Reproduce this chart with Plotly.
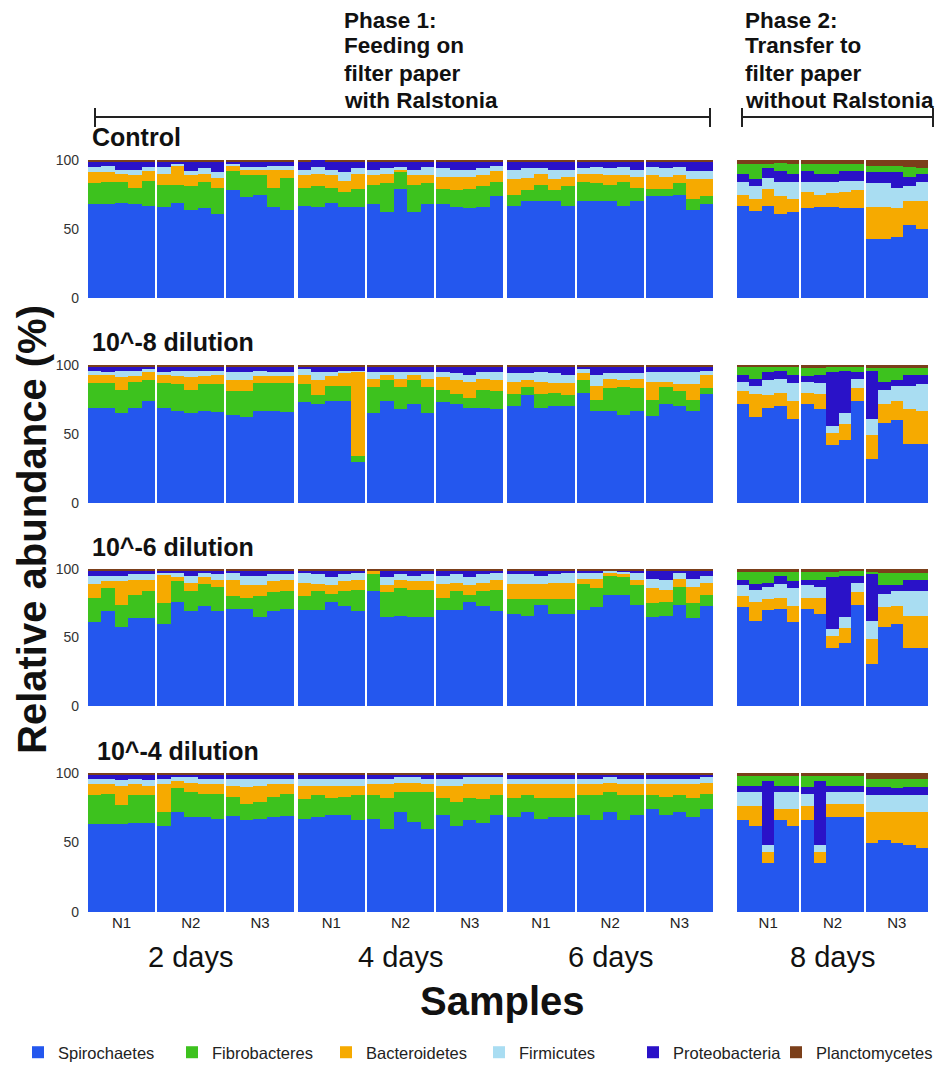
import plotly.graph_objects as go

# ---------------- data ----------------
series_names = ["Spirochaetes", "Fibrobacteres", "Bacteroidetes", "Firmicutes", "Proteobacteria", "Planctomycetes"]
series_colors = ["#2457EE", "#3DC21E", "#F6AA00", "#A9DDF2", "#2A12C8", "#7B3F1A"]
panel_titles = ["Control", "10^-8 dilution", "10^-6 dilution", "10^-4 dilution"]
day_labels = ["2 days", "4 days", "6 days", "8 days"]
replicate_labels = ["N1", "N2", "N3"]
y_ticks = [0, 50, 100]

# each list: 2 days (N1..N3 x 5 bars), 4 days, 6 days, 8 days
control_spirochaetes = [68, 68, 69, 68, 67, 66, 69, 64, 65, 61, 78, 73, 75, 66, 64,
                        67, 66, 69, 66, 66, 68, 62, 79, 62, 68, 68, 66, 65, 66, 74,
                        67, 70, 70, 70, 67, 70, 70, 70, 67, 70, 74, 74, 75, 64, 68,
                        67, 63, 67, 61, 62, 65, 66, 66, 65, 65, 43, 43, 44, 53, 50]
control_fibrobacteres = [15, 16, 15, 12, 18, 16, 13, 17, 19, 19, 14, 16, 14, 14, 23,
                         13, 15, 11, 11, 13, 14, 21, 12, 20, 15, 11, 12, 14, 15, 10,
                         8, 8, 12, 8, 14, 14, 13, 12, 17, 10, 5, 5, 8, 8, 6,
                         7, 11, 3, 6, 7, 5, 7, 7, 5, 5, 5, 5, 5, 7, 4]
control_bacteroidetes = [8, 7, 6, 9, 7, 8, 14, 8, 6, 7, 4, 4, 4, 13, 6,
                         9, 9, 9, 8, 11, 7, 7, 2, 7, 6, 9, 10, 9, 8, 8,
                         11, 9, 8, 8, 7, 6, 7, 7, 5, 8, 10, 9, 6, 14, 12,
                         8, 9, 12, 13, 10, 12, 9, 10, 12, 13, 23, 23, 21, 17, 20]
control_firmicutes = [4, 5, 3, 4, 3, 5, 1, 3, 4, 4, 1, 2, 2, 3, 3,
                      4, 5, 4, 6, 4, 4, 4, 2, 4, 6, 6, 5, 5, 5, 4,
                      7, 7, 4, 7, 5, 4, 5, 5, 6, 5, 6, 6, 6, 6, 6,
                      9, 9, 8, 10, 12, 7, 9, 8, 8, 7, 17, 17, 15, 11, 14]
control_proteobacteria = [4, 3, 6, 6, 4, 4, 2, 7, 5, 8, 2, 4, 4, 3, 3,
                          6, 5, 6, 8, 5, 6, 5, 4, 6, 4, 5, 6, 6, 5, 3,
                          6, 5, 5, 6, 6, 5, 4, 5, 4, 6, 4, 5, 4, 7, 7,
                          6, 5, 7, 8, 6, 8, 6, 6, 7, 7, 8, 8, 11, 7, 6]
control_planctomycetes = [1, 1, 1, 1, 1, 1, 1, 1, 1, 1, 1, 1, 1, 1, 1,
                          1, 0, 1, 1, 1, 1, 1, 1, 1, 1, 1, 1, 1, 1, 1,
                          1, 1, 1, 1, 1, 1, 1, 1, 1, 1, 1, 1, 1, 1, 1,
                          3, 3, 3, 2, 3, 3, 3, 3, 3, 3, 4, 4, 4, 5, 6]

d8_spirochaetes = [69, 69, 65, 69, 74, 69, 67, 65, 67, 66, 64, 62, 67, 67, 66,
                   73, 72, 74, 74, 30, 65, 74, 68, 72, 65, 73, 72, 69, 69, 68,
                   70, 78, 69, 70, 70, 80, 67, 67, 64, 67, 63, 72, 70, 67, 79,
                   72, 62, 69, 70, 61, 72, 68, 42, 46, 74, 32, 58, 60, 43, 43]
d8_fibrobacteres = [18, 18, 17, 19, 15, 18, 19, 17, 19, 20, 17, 19, 20, 20, 21,
                    13, 6, 11, 11, 4, 19, 15, 16, 17, 19, 9, 7, 7, 13, 13,
                    9, 6, 10, 10, 8, 9, 8, 16, 20, 16, 12, 12, 11, 8, 4,
                    6, 9, 4, 3, 6, 6, 5, 4, 3, 4, 2, 10, 9, 5, 5]
d8_bacteroidetes = [6, 6, 9, 4, 6, 6, 6, 9, 6, 7, 8, 8, 5, 5, 5,
                    7, 11, 7, 9, 61, 6, 4, 6, 4, 6, 9, 10, 12, 8, 8,
                    9, 5, 9, 7, 9, 5, 10, 7, 5, 7, 13, 4, 5, 11, 10,
                    9, 17, 9, 10, 13, 8, 11, 9, 11, 9, 17, 14, 14, 25, 24]
d8_firmicutes = [3, 2, 5, 4, 2, 2, 4, 5, 4, 3, 6, 6, 4, 3, 3,
                 4, 6, 3, 2, 1, 5, 2, 5, 2, 5, 4, 5, 5, 5, 6,
                 6, 5, 7, 7, 6, 3, 8, 4, 5, 4, 7, 7, 9, 9, 3,
                 7, 6, 11, 10, 13, 8, 8, 5, 8, 7, 12, 10, 11, 17, 19]
d8_proteobacteria = [3, 4, 3, 3, 2, 4, 3, 3, 3, 3, 4, 4, 3, 4, 4,
                     2, 4, 4, 3, 3, 4, 4, 4, 4, 4, 4, 5, 6, 4, 4,
                     5, 5, 4, 5, 6, 2, 6, 5, 5, 5, 4, 4, 4, 4, 3,
                     5, 5, 6, 6, 6, 4, 6, 39, 31, 5, 35, 6, 4, 8, 7]
d8_planctomycetes = [1, 1, 1, 1, 1, 1, 1, 1, 1, 1, 1, 1, 1, 1, 1,
                     1, 1, 1, 1, 1, 1, 1, 1, 1, 1, 1, 1, 1, 1, 1,
                     1, 1, 1, 1, 1, 1, 1, 1, 1, 1, 1, 1, 1, 1, 1,
                     1, 1, 1, 1, 1, 2, 2, 1, 1, 1, 2, 2, 2, 2, 2]

d6_spirochaetes = [61, 69, 58, 64, 64, 60, 76, 69, 73, 69, 71, 71, 65, 69, 71,
                   70, 70, 76, 73, 69, 84, 65, 66, 65, 65, 70, 70, 76, 73, 69,
                   67, 66, 74, 67, 67, 70, 72, 81, 81, 74, 65, 66, 74, 64, 73,
                   72, 62, 70, 71, 61, 71, 67, 42, 46, 74, 31, 58, 60, 42, 42]
d6_fibrobacteres = [18, 17, 16, 17, 20, 15, 15, 15, 16, 18, 9, 8, 15, 14, 13,
                    10, 14, 6, 11, 16, 12, 18, 20, 20, 20, 9, 14, 5, 11, 16,
                    11, 12, 4, 11, 11, 19, 14, 14, 13, 14, 10, 10, 13, 11, 8,
                    6, 9, 8, 3, 7, 6, 6, 4, 4, 4, 1, 9, 9, 5, 5]
d6_bacteroidetes = [10, 5, 17, 11, 8, 21, 3, 6, 5, 5, 12, 9, 8, 8, 8,
                    10, 5, 6, 7, 7, 3, 5, 6, 6, 6, 10, 6, 7, 6, 7,
                    11, 11, 11, 12, 12, 4, 7, 2, 2, 4, 11, 9, 6, 12, 9,
                    8, 14, 8, 8, 12, 8, 12, 9, 11, 9, 18, 14, 13, 24, 24]
d6_firmicutes = [6, 4, 4, 4, 4, 1, 3, 5, 3, 4, 5, 7, 7, 5, 4,
                 7, 7, 6, 5, 5, 0, 6, 4, 4, 5, 6, 6, 6, 6, 5,
                 7, 7, 6, 6, 7, 4, 4, 2, 2, 5, 7, 7, 4, 6, 5,
                 8, 9, 9, 10, 13, 9, 8, 5, 8, 7, 13, 10, 11, 18, 18]
d6_proteobacteria = [4, 4, 4, 3, 3, 2, 2, 4, 2, 3, 2, 4, 4, 3, 3,
                     2, 3, 5, 3, 2, 0, 5, 3, 4, 3, 4, 3, 5, 3, 2,
                     3, 3, 4, 3, 2, 2, 2, 0, 1, 2, 6, 7, 2, 6, 4,
                     4, 4, 3, 6, 5, 4, 5, 38, 30, 5, 35, 6, 4, 8, 8]
d6_planctomycetes = [1, 1, 1, 1, 1, 1, 1, 1, 1, 1, 1, 1, 1, 1, 1,
                     1, 1, 1, 1, 1, 1, 1, 1, 1, 1, 1, 1, 1, 1, 1,
                     1, 1, 1, 1, 1, 1, 1, 1, 1, 1, 1, 1, 1, 1, 1,
                     2, 2, 2, 2, 2, 2, 2, 2, 1, 1, 2, 3, 3, 3, 3]

d4_spirochaetes = [63, 63, 63, 64, 64, 62, 72, 68, 68, 67, 69, 66, 67, 68, 69,
                   67, 68, 70, 70, 66, 67, 60, 72, 65, 60, 70, 62, 66, 64, 70,
                   68, 72, 67, 68, 68, 70, 66, 72, 66, 70, 74, 70, 72, 68, 74,
                   66, 62, 35, 66, 62, 66, 35, 68, 68, 68, 50, 52, 50, 48, 46]
d4_fibrobacteres = [21, 22, 14, 20, 20, 10, 17, 18, 17, 18, 14, 12, 12, 15, 16,
                    14, 16, 12, 13, 18, 17, 22, 14, 21, 26, 12, 17, 16, 17, 14,
                    14, 12, 15, 14, 14, 14, 18, 14, 18, 14, 10, 13, 12, 14, 11,
                    7, 7, 4, 7, 7, 8, 4, 7, 7, 7, 6, 6, 7, 6, 6]
d4_bacteroidetes = [8, 7, 14, 8, 7, 20, 5, 7, 7, 7, 8, 12, 12, 9, 7,
                    10, 7, 9, 8, 7, 8, 10, 7, 7, 6, 9, 12, 10, 11, 8,
                    10, 8, 10, 10, 10, 8, 8, 7, 8, 8, 8, 9, 8, 10, 8,
                    10, 14, 8, 8, 12, 10, 8, 10, 10, 10, 22, 20, 22, 24, 26]
d4_firmicutes = [4, 4, 4, 4, 4, 4, 3, 4, 4, 4, 5, 6, 5, 4, 4,
                 5, 5, 5, 5, 5, 4, 4, 4, 4, 4, 5, 5, 5, 5, 5,
                 4, 4, 4, 4, 4, 4, 4, 4, 4, 4, 4, 4, 4, 4, 4,
                 10, 10, 5, 12, 12, 9, 5, 8, 8, 8, 12, 12, 12, 12, 12]
d4_proteobacteria = [3, 3, 4, 3, 4, 3, 2, 2, 3, 3, 3, 3, 3, 3, 3,
                     3, 3, 3, 3, 3, 3, 3, 2, 2, 3, 3, 3, 2, 2, 2,
                     3, 3, 3, 3, 3, 3, 3, 2, 3, 3, 3, 3, 3, 3, 2,
                     5, 5, 46, 5, 5, 5, 46, 5, 5, 5, 6, 6, 5, 6, 6]
d4_planctomycetes = [1, 1, 1, 1, 1, 1, 1, 1, 1, 1, 1, 1, 1, 1, 1,
                     1, 1, 1, 1, 1, 1, 1, 1, 1, 1, 1, 1, 1, 1, 1,
                     1, 1, 1, 1, 1, 1, 1, 1, 1, 1, 1, 1, 1, 1, 1,
                     2, 2, 2, 2, 2, 2, 2, 2, 2, 2, 4, 4, 4, 4, 4]

panels = [
    [control_spirochaetes, control_fibrobacteres, control_bacteroidetes,
     control_firmicutes, control_proteobacteria, control_planctomycetes],
    [d8_spirochaetes, d8_fibrobacteres, d8_bacteroidetes,
     d8_firmicutes, d8_proteobacteria, d8_planctomycetes],
    [d6_spirochaetes, d6_fibrobacteres, d6_bacteroidetes,
     d6_firmicutes, d6_proteobacteria, d6_planctomycetes],
    [d4_spirochaetes, d4_fibrobacteres, d4_bacteroidetes,
     d4_firmicutes, d4_proteobacteria, d4_planctomycetes],
]

# ---------------- layout helpers ----------------
W, H = 949, 1070
S_GAP, G_GAP = 0.15, 0.3
PHASE1_ORDER = [0, 1, 2, 3, 4, 5]
PHASE2_ORDER = [0, 2, 3, 4, 1, 5]   # green sits above Proteobacteria in phase 2
LEGEND_X_PX = [18, 172, 326, 479, 633, 776]


def bar_positions(n_groups):
    xs = []
    for g in range(n_groups):
        for s in range(3):
            for b in range(5):
                xs.append(g * (15 + 2 * S_GAP + G_GAP) + s * (5 + S_GAP) + b)
    return xs


def px_x(p):
    return p / W


def px_y(p):
    return 1 - p / H


def legend_id(i):
    return "legend" if i == 0 else f"legend{i + 1}"


x_phase1 = bar_positions(3)
x_phase2 = bar_positions(1)
row_top = [160, 365, 569, 773]
row_bot = [298, 503, 706, 912]
FONT = "Liberation Sans"

fig = go.Figure()
layout = {}
for r in range(4):
    for c in range(2):
        k = r * 2 + c + 1
        xs = x_phase1 if c == 0 else x_phase2
        sl = slice(0, 45) if c == 0 else slice(45, 60)
        order = PHASE1_ORDER if c == 0 else PHASE2_ORDER
        for si in order:
            fig.add_trace(go.Bar(
                x=xs, y=panels[r][si][sl], name=series_names[si],
                marker=dict(color=series_colors[si], line=dict(width=0)),
                width=1.0, xaxis=f"x{k}", yaxis=f"y{k}",
                showlegend=(k == 1), legendgroup=series_names[si],
                legend=legend_id(si),
            ))
        xname = "xaxis" if k == 1 else f"xaxis{k}"
        yname = "yaxis" if k == 1 else f"yaxis{k}"
        dom = [px_x(88), px_x(713)] if c == 0 else [px_x(737), px_x(928)]
        centers = [xs[s * 5] + 2 for s in range(len(xs) // 5)]
        layout[xname] = dict(
            domain=dom, anchor=f"y{k}", range=[xs[0] - 0.5, xs[-1] + 0.5],
            showgrid=False, zeroline=False, showline=False, ticks="",
            tickvals=centers if r == 3 else [],
            ticktext=[replicate_labels[i % 3] for i in range(len(centers))] if r == 3 else [],
            showticklabels=(r == 3), automargin=False,
            tickfont=dict(family=FONT, size=15, color="#222"),
        )
        layout[yname] = dict(
            domain=[px_y(row_bot[r]), px_y(row_top[r])], anchor=f"x{k}",
            range=[0, 100], tickvals=y_ticks, ticktext=[str(v) for v in y_ticks],
            showticklabels=(c == 0), showgrid=False, zeroline=False, showline=False,
            ticks="", ticklabelstandoff=8, automargin=False,
            tickfont=dict(family=FONT, size=14, color="#333"),
        )

# one legend box per series so each entry sits where the reference puts it
for si in range(len(series_names)):
    layout[legend_id(si)] = dict(
        orientation="h", x=px_x(LEGEND_X_PX[si]), y=0.0, xanchor="left", yanchor="bottom",
        font=dict(family=FONT, size=16.5, color="#222"), itemwidth=30,
        bgcolor="rgba(0,0,0,0)",
    )

annotations = []
# panel titles
title_x = [90, 90, 90, 95]
title_y = [137, 342, 547, 751]
for r in range(4):
    annotations.append(dict(text=f"<b>{panel_titles[r]}</b>", x=px_x(title_x[r]), y=px_y(title_y[r]),
                            xref="paper", yref="paper", xanchor="left", yanchor="middle",
                            showarrow=False, font=dict(family=FONT, size=25, color="#111")))
# day labels
for g in range(4):
    if g < 3:
        cx = x_phase1[g * 15] + (x_phase1[g * 15 + 14] - x_phase1[g * 15]) / 2
        xr = "x7"
    else:
        cx = x_phase2[0] + (x_phase2[14] - x_phase2[0]) / 2
        xr = "x8"
    annotations.append(dict(text=day_labels[g], x=cx, y=px_y(957), xref=xr, yref="paper",
                            xanchor="center", yanchor="middle", showarrow=False,
                            font=dict(family=FONT, size=29, color="#111")))
# axis titles
annotations.append(dict(text="<b>Samples</b>", x=px_x(502), y=px_y(1001), xref="paper", yref="paper",
                        xanchor="center", yanchor="middle", showarrow=False,
                        font=dict(family=FONT, size=40, color="#111")))
annotations.append(dict(text="<b>Relative abundance (%)</b>", x=px_x(32), y=px_y(530), xref="paper",
                        yref="paper", xanchor="center", yanchor="middle", textangle=-90,
                        showarrow=False, font=dict(family=FONT, size=40, color="#111")))
# phase headers
phase1_lines = ["Phase 1:", "Feeding on", "filter paper", "with Ralstonia"]
phase2_lines = ["Phase 2:", "Transfer to", "filter paper", "without Ralstonia"]
line_y = [20, 46, 73, 100]
for i in range(4):
    annotations.append(dict(text=f"<b>{phase1_lines[i]}</b>", x=px_x(342), y=px_y(line_y[i]),
                            xref="paper", yref="paper", xanchor="left", yanchor="middle",
                            showarrow=False, font=dict(family=FONT, size=22.5, color="#111")))
    annotations.append(dict(text=f"<b>{phase2_lines[i]}</b>", x=px_x(743), y=px_y(line_y[i]),
                            xref="paper", yref="paper", xanchor="left", yanchor="middle",
                            showarrow=False, font=dict(family=FONT, size=22.5, color="#111")))

shapes = []
for (x0, x1) in [(95, 710), (742, 933)]:
    shapes.append(dict(type="line", xref="paper", yref="paper", x0=px_x(x0), x1=px_x(x1),
                       y0=px_y(117), y1=px_y(117), line=dict(color="#222", width=2)))
    for xx in (x0, x1):
        shapes.append(dict(type="line", xref="paper", yref="paper", x0=px_x(xx), x1=px_x(xx),
                           y0=px_y(108), y1=px_y(127), line=dict(color="#222", width=2)))

fig.update_layout(
    width=W, height=H, margin=dict(l=0, r=0, t=0, b=0, autoexpand=False),
    paper_bgcolor="white", plot_bgcolor="white",
    barmode="stack", bargap=0,
    annotations=annotations, shapes=shapes,
    **layout,
)

fig.write_html("out.html")
